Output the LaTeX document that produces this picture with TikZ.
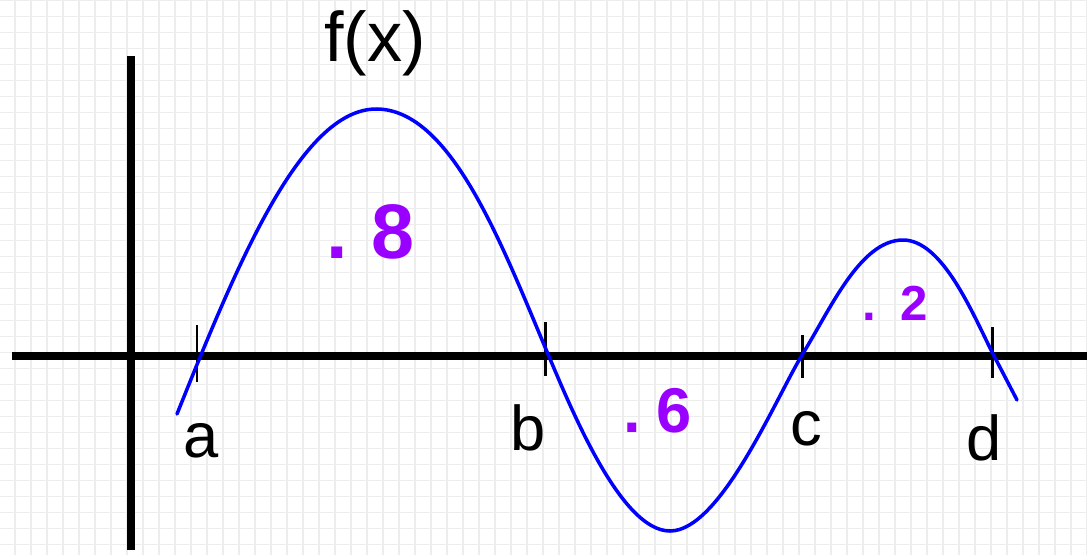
\documentclass[tikz,border=0pt]{standalone}
\usepackage{fontspec}
\setmainfont{Liberation Sans}
\definecolor{gridgray}{HTML}{EDEDED}
\definecolor{curveblue}{HTML}{0000FF}
\definecolor{areapurple}{HTML}{9A00FF}

\begin{document}
\begin{tikzpicture}[
  x=0.02cm, y=-0.02cm,
  gridline/.style={gridgray, line width=0.75pt},
  axis/.style={line width=5pt},
  tick/.style={line width=1.7pt},
  curve/.style={curveblue, line width=2pt, line join=round, line cap=round},
  lbl/.style={font=\fontsize{36}{40}\selectfont, inner sep=0pt, anchor=base},
  area/.style={text=areapurple, inner sep=0pt, anchor=base west},
]
\useasboundingbox[fill=white] (0,0) rectangle (1087,555);

% ---- grid paper ----
\foreach \gx in {15,31,...,1087} \draw[gridline] (\gx,0) -- (\gx,555);
\foreach \gy in {0.7,16.7,...,555} \draw[gridline] (0,\gy) -- (1087,\gy);

% ---- axes ----
\draw[axis] (12,356) -- (1087,356);
\draw[axis] (131,56) -- (131,550);

% ---- ticks ----
\draw[tick] (197,325) -- (197,382);
\draw[tick] (545,322) -- (545,376);
\draw[tick] (802,335) -- (802,378);
\draw[tick] (992,327) -- (992,378);

% ---- f(x) ----
\draw[curve] (177,414) .. controls (235,270) and (300,108) .. (377,109)
  .. controls (450,110) and (500,240) .. (545,347)
  .. controls (570,406) and (620,531) .. (670,531)
  .. controls (720,531) and (775,400) .. (802,355)
  .. controls (830,310) and (860,240) .. (903,240)
  .. controls (942,240) and (972,312) .. (992,352)
  -- (1017,400);

% ---- labels ----
\node[lbl, font=\fontsize{40}{44}\selectfont] (fx) at (375,61) {f(x)};
\node[lbl] (la) at (201,457) {a};
\node[lbl] (lb) at (528,450) {b};
\node[lbl] (lc) at (806,445) {c};
\node[lbl] (ld) at (984,460) {d};

% ---- areas ----
\node[area, font=\fontsize{44}{48}\selectfont\bfseries] (area1) at (326,258) {.\hspace{0.3em}8};
\node[area, font=\fontsize{36}{40}\selectfont\bfseries] (area2) at (623,432) {.\hspace{0.25em}6};
\node[area, font=\fontsize{28}{32}\selectfont\bfseries] (area3) at (862,320) {.\hspace{0.5em}2};

\end{tikzpicture}
\end{document}
